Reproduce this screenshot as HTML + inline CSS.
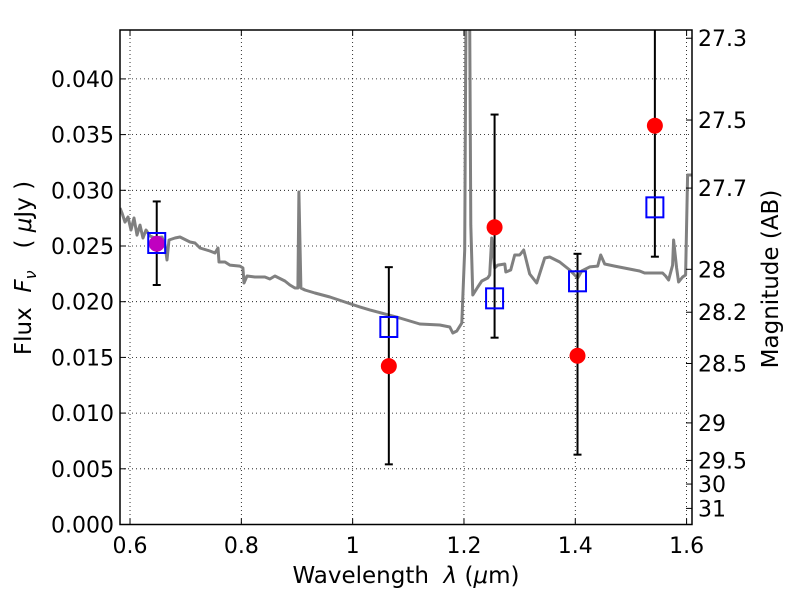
<!DOCTYPE html>
<html><head><meta charset="utf-8"><style>
body{margin:0;background:#fff}
svg text{font-family:"DejaVu Sans","Liberation Sans",sans-serif;fill:#000}
</style></head><body>
<svg id="chart" width="800" height="600" xmlns="http://www.w3.org/2000/svg">
<defs><clipPath id="clip"><rect x="120" y="30" width="572" height="495"/></clipPath></defs>
<g id="grid"></g>
<g id="spec" clip-path="url(#clip)"></g>
<g id="marks" clip-path="url(#clip)"></g>
<rect x="120" y="30" width="572" height="494.5" fill="none" stroke="#000" stroke-width="1.5"/>
<g id="axes"></g>
<text x="406" y="583" font-size="23" text-anchor="middle">Wavelength&#160;&#160;<tspan font-style="italic">λ</tspan>&#160;(<tspan font-style="italic">μ</tspan>m)</text>
<text transform="translate(31,268) rotate(-90)" font-size="23" text-anchor="middle">Flux&#160;&#160;<tspan font-style="italic">F</tspan><tspan font-style="italic" font-size="16" dy="5">ν</tspan><tspan dy="-5">&#160;&#160;&#160;(&#160;</tspan><tspan font-style="italic">μ</tspan>Jy&#160;)</text>
<text transform="translate(778,279) rotate(-90)" font-size="23" text-anchor="middle">Magnitude (AB)</text>
</svg>
<script>
const specWave=[0.582,0.5856,0.591,0.5964,0.6018,0.6072,0.6126,0.618,0.6233,0.6287,0.6359,0.6449,0.6574,0.6628,0.6664,0.67,0.6808,0.6898,0.7077,0.7167,0.7257,0.7436,0.7526,0.758,0.7598,0.7706,0.7795,0.7975,0.8029,0.8047,0.8101,0.8244,0.8424,0.8513,0.8603,0.8783,0.8873,0.8962,0.9016,0.9034,0.907,0.9142,0.9321,0.9591,0.986,1.0129,1.0309,1.0847,1.1207,1.1566,1.1745,1.1799,1.1871,1.1961,1.2014,1.205,1.2086,1.2122,1.2158,1.2248,1.232,1.2427,1.2463,1.2499,1.2553,1.2607,1.2733,1.2751,1.284,1.2912,1.3002,1.3074,1.3181,1.3307,1.3451,1.354,1.372,1.3899,1.4043,1.4115,1.4259,1.4402,1.4456,1.4528,1.4708,1.5156,1.5246,1.5569,1.5623,1.5677,1.5749,1.5767,1.5821,1.5856,1.5928,1.5982,1.6018,1.609];
const specFlux=[0.02841,0.02796,0.02715,0.0276,0.02644,0.02751,0.02598,0.02688,0.02572,0.02644,0.0259,0.02572,0.02581,0.02509,0.02374,0.02554,0.02572,0.02581,0.02536,0.02527,0.02482,0.02455,0.02437,0.02482,0.02356,0.02356,0.02329,0.0232,0.02303,0.02168,0.02231,0.02222,0.02222,0.02204,0.02231,0.02186,0.0215,0.02123,0.02123,0.02985,0.02123,0.02105,0.02078,0.02042,0.01997,0.01953,0.01926,0.01854,0.018,0.01791,0.01773,0.01719,0.01737,0.01809,0.02464,0.06,0.06,0.02688,0.0206,0.02132,0.02186,0.02213,0.0224,0.02572,0.02303,0.02329,0.02338,0.02267,0.02285,0.02419,0.02419,0.02464,0.02249,0.02168,0.02392,0.02401,0.02356,0.02285,0.02213,0.02276,0.02312,0.0232,0.02419,0.02338,0.0232,0.02276,0.02258,0.02258,0.02231,0.02195,0.02329,0.02554,0.02303,0.02177,0.02222,0.0224,0.03137,0.03137];
const bandWave=[0.648,1.065,1.255,1.404,1.543];
const obsFlux=[0.0252,0.01422,0.02668,0.01515,0.0358];
const errLow=[0.0215,0.0054,0.01677,0.00627,0.02404];
const errHigh=[0.029,0.0231,0.0368,0.0243,0.046];
const modelFlux=[0.02527,0.01773,0.0203,0.02183,0.02847];
const xTicks=[0.6,0.8,1.0,1.2,1.4,1.6];
const xTickLabels=["0.6","0.8","1","1.2","1.4","1.6"];
const yTicks=[0,0.005,0.01,0.015,0.02,0.025,0.03,0.035,0.04];
const yTickLabels=["0.000","0.005","0.010","0.015","0.020","0.025","0.030","0.035","0.040"];
const magTicks=[27.3,27.5,27.7,28,28.2,28.5,29,29.5,30,31];
const magTickLabels=["27.3","27.5","27.7","28","28.2","28.5","29","29.5","30","31"];

const X0=120,X1=692,Y0=524.5,Y1=30,XMIN=0.582,XMAX=1.6097,YMIN=0,YMAX=0.04439;
const sx=v=>X0+(v-XMIN)/(XMAX-XMIN)*(X1-X0);
const sy=v=>Y0-(v-YMIN)/(YMAX-YMIN)*(Y0-Y1);
const magToFlux=m=>Math.pow(10,(23.9-m)/2.5);
const NS="http://www.w3.org/2000/svg";
function mk(tag,parent,attrs){const e=document.createElementNS(NS,tag);for(const k in attrs)e.setAttribute(k,attrs[k]);document.getElementById(parent).appendChild(e);return e;}

xTicks.forEach((t,i)=>{const x=sx(t);
 const g=mk('line','grid',{x1:x,x2:x,y1:Y1,y2:Y0,stroke:'#000','stroke-width':0.8,'stroke-dasharray':'1,3'});
 
 
 mk('line','axes',{x1:x,x2:x,y1:Y0,y2:Y0-6,stroke:'#000'});
 mk('line','axes',{x1:x,x2:x,y1:Y1,y2:Y1+6,stroke:'#000'});
 const l=mk('text','axes',{x:x,y:553,'font-size':22,'text-anchor':'middle'});l.textContent=xTickLabels[i];
 
 
});
yTicks.forEach((t,i)=>{const y=sy(t);
 const g=mk('line','grid',{x1:X0,x2:X1,y1:y,y2:y,stroke:'#000','stroke-width':0.8,'stroke-dasharray':'1,3'});
 
 
 mk('line','axes',{x1:X0,x2:X0+6,y1:y,y2:y,stroke:'#000'});
 const l=mk('text','axes',{x:114,y:y+8,'font-size':22,'text-anchor':'end'});l.textContent=yTickLabels[i];
 
 
});
magTicks.forEach((m,i)=>{const y=sy(magToFlux(m));
 mk('line','axes',{x1:X1,x2:X1-6,y1:y,y2:y,stroke:'#000'});
 const l=mk('text','axes',{x:698,y:y+8,'font-size':22});l.textContent=magTickLabels[i];
 
 
});
const pts=specWave.map((w,i)=>sx(w).toFixed(1)+','+sy(specFlux[i]).toFixed(1)).join(' ');
const sp=mk('polyline','spec',{points:pts,fill:'none',stroke:'#808080','stroke-width':3,'stroke-linejoin':'round'});


bandWave.forEach((w,i)=>{const x=sx(w);
 const e=mk('line','marks',{x1:x,x2:x,y1:sy(errLow[i]),y2:sy(errHigh[i]),stroke:'#000','stroke-width':2});
 
 
 [errLow[i],errHigh[i]].forEach(v=>mk('line','marks',{x1:x-4,x2:x+4,y1:sy(v),y2:sy(v),stroke:'#000','stroke-width':2}));
 const c=mk('circle','marks',{cx:x,cy:sy(obsFlux[i]),r:8,fill:i===0?'#c000c0':'#ff0000'});
 
 
 const s=mk('rect','marks',{x:x-8.5,y:sy(modelFlux[i])-10,width:17,height:20,fill:'none',stroke:'#0000ff','stroke-width':2});
 
 
});
</script>
</body></html>
